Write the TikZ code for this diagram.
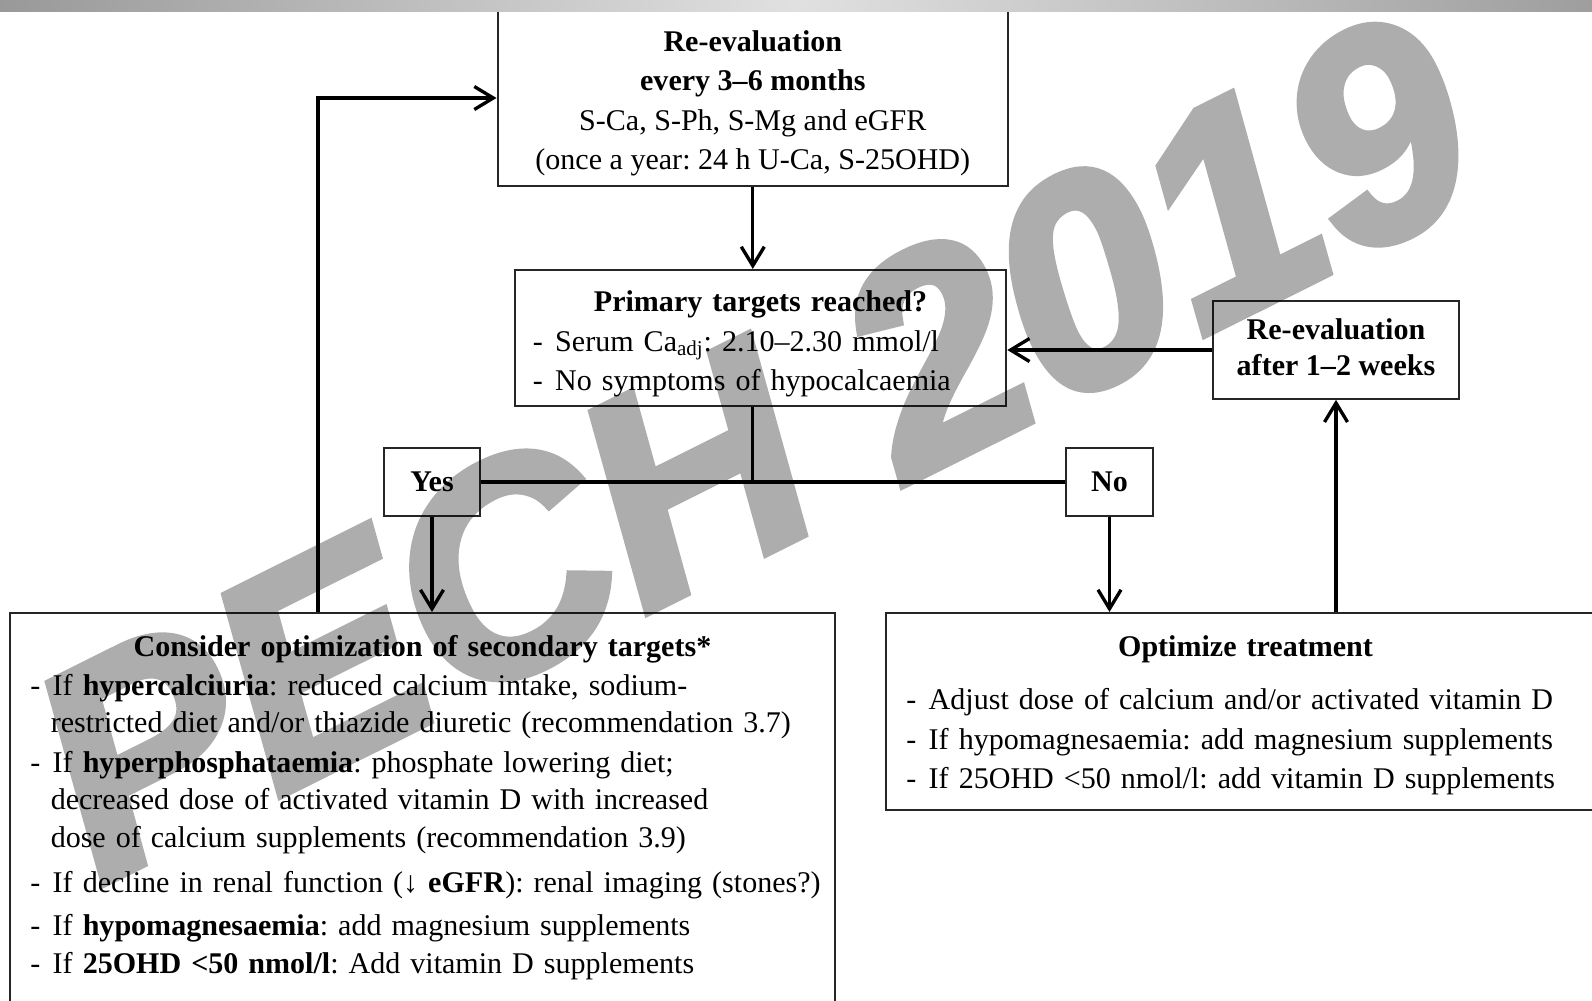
\documentclass[tikz,border=0pt]{standalone}
\usepackage{fontspec}
\setmainfont{Liberation Serif}
\newfontfamily\stampfont{Liberation Sans}[FakeBold=3]
\usetikzlibrary{arrows.meta}
\newcommand{\lmark}{\makebox[0.45cm][l]{-}}
\newcommand{\lskip}{\hspace*{0.41cm}}
\frenchspacing

\begin{document}
\begin{tikzpicture}[
  box/.style={draw=black!85, line width=1.2pt, fill=white, inner sep=0pt},
  txt/.style={font=\fontsize{17.1pt}{22.5pt}\selectfont},
  arr/.style={line width=1.9pt, -{Straight Barb[length=0.38cm, width=0.46cm]}},
  flow/.style={line width=1.9pt}
]
  \clip (0,0) rectangle (31.84,-20);

  \node[box, txt, align=center, minimum width=10.21cm, minimum height=3.52cm] (reeval) at (15.056,-1.96)
    {\rule{0pt}{0.63cm}\textbf{Re-evaluation}\\ \textbf{every 3--6 months}\\ S-Ca, S-Ph, S-Mg and eGFR\\ (once a year: 24 h U-Ca, S-25OHD)};
  \node[box, txt, align=left, text width=9.11cm, inner xsep=0.36cm, minimum height=2.72cm] (mid) at (15.21,-6.76)
    {\makebox[\linewidth]{\rule{0pt}{0.65cm}\textbf{Primary targets reached?}}\\
     \lmark Serum Ca\textsubscript{adj}: 2.10--2.30 mmol/l\\
     \lmark No symptoms of hypocalcaemia};
  \node[box, txt, align=center, minimum width=4.91cm, minimum height=1.95cm,
        font=\fontsize{17.1pt}{20.8pt}\selectfont] (recheck) at (26.72,-7.0)
    {\textbf{Re-evaluation}\\ \textbf{after 1--2 weeks}\rule[-0.12cm]{0pt}{0.12cm}};
  \node[box, txt, minimum width=1.93cm, minimum height=1.36cm] (yes) at (8.64,-9.64) {\textbf{Yes}};
  \node[box, txt, minimum width=1.75cm, minimum height=1.36cm] (no) at (22.19,-9.64) {\textbf{No}};

  \node[box, align=left, text width=15.69cm, inner xsep=0.4cm, inner ysep=0.45cm, anchor=north,
        font=\fontsize{17.1pt}{21.4pt}\selectfont] (consider) at (8.45,-12.24)
    {\makebox[\linewidth]{\textbf{Consider optimization of secondary targets*}}\\[0.6pt]
     \lmark If \textbf{hypercalciuria}: reduced calcium intake, sodium-\\
     \lskip restricted diet and/or thiazide diuretic (recommendation 3.7)\\[1pt]
     \lmark If \textbf{hyperphosphataemia}: phosphate lowering diet;\\
     \lskip decreased dose of activated vitamin D with increased\\
     \lskip dose of calcium supplements (recommendation 3.9)\\[4pt]
     \mbox{\lmark If decline in renal function (↓ \textbf{eGFR}): renal imaging (stones?)}\\[3.5pt]
     \lmark If \textbf{hypomagnesaemia}: add magnesium supplements\\
     \lmark If \textbf{25OHD <50 nmol/l}: Add vitamin D supplements\\[1cm]\mbox{}};
  \node[box, txt, align=left, text width=13.57cm, inner xsep=0.4cm, minimum height=3.94cm, anchor=north] (optimize) at (24.91,-12.24)
    {\makebox[\linewidth]{\rule{0pt}{0.58cm}\textbf{Optimize treatment}}\\[7.5pt]
     \lmark Adjust dose of calcium and/or activated vitamin D\\
     \lmark If hypomagnesaemia: add magnesium supplements\\
     \lmark If 25OHD <50 nmol/l: add vitamin D supplements};

  \coordinate (back) at (6.36,0);
  \draw[arr] (back |- consider.north) -- (back |- reeval.west) -- (reeval.west);
  \draw[arr] (reeval.south) -- (reeval.south |- mid.north);
  \draw[flow] (reeval.south |- mid.south) -- (reeval.south |- yes.east);
  \draw[flow] (yes.east) -- (no.west);
  \draw[arr] (yes.south) -- (yes.south |- consider.north);
  \draw[arr] (no.south) -- (no.south |- optimize.north);
  \draw[arr] (recheck.south |- optimize.north) -- (recheck.south);
  \draw[arr] (recheck.west) -- (recheck.west -| mid.east);

  \shade[left color=black!40, right color=black!38, middle color=black!12] (0,0) rectangle (31.84,-0.23);

  \begin{scope}[transparency group, opacity=0.32]
    \node[font=\stampfont\bfseries\itshape\fontsize{168pt}{168pt}\selectfont, text=black,
          rotate=26.5, anchor=base west, inner sep=0pt] (stamp) at (2.0,-17.7) {PECH 2019};
  \end{scope}
\end{tikzpicture}
\end{document}
